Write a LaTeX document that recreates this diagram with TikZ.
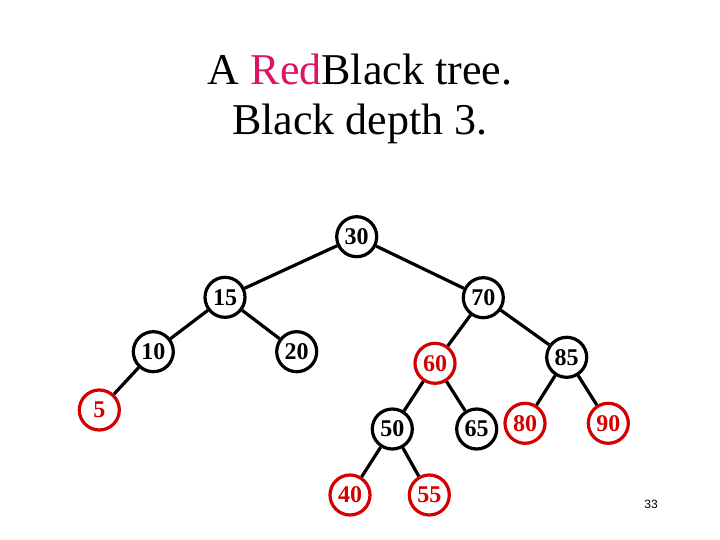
\documentclass[tikz,border=0pt]{standalone}
\usepackage{fontspec}
\setmainfont{Liberation Serif}
\newfontfamily\slidesans{Liberation Sans}
\definecolor{rbred}{HTML}{D40000}
\definecolor{titlered}{HTML}{DC1464}
\begin{document}
\begin{tikzpicture}[x=1pt,y=-1pt,
  blk/.style={circle,draw=black,line width=3.2pt,minimum size=40pt,inner sep=0pt,
    font=\fontsize{24}{24}\selectfont\bfseries},
  rd/.style={blk,draw=rbred,text=rbred},
  edge/.style={line width=3.2pt}]
  \useasboundingbox (0,0) rectangle (720,540);
  % Title
  \node[font=\fontsize{44}{44}\selectfont,anchor=base] (title1) at (360,85) {A \textcolor{titlered}{Red}Black tree.};
  \node[font=\fontsize{44}{44}\selectfont,anchor=base] (title2) at (360,135) {Black depth 3.};
  % Nodes
  \node[blk] (n30) at (356.7,236.7) {30};
  \node[blk] (n15) at (225,297.3) {15};
  \node[blk] (n10) at (153.3,351.7) {10};
  \node[blk] (n20) at (296.7,351.7) {20};
  \node[rd]  (n5)  at (99.3,410) {5};
  \node[blk] (n70) at (483.3,297.7) {70};
  \node[rd]  (n60) at (435,363.3) {60};
  \node[blk] (n85) at (566.7,357.3) {85};
  \node[blk] (n50) at (392.3,429) {50};
  \node[blk] (n65) at (476.7,429) {65};
  \node[rd]  (n80) at (525,423.3) {80};
  \node[rd]  (n90) at (608.3,423.3) {90};
  \node[rd]  (n40) at (350,495) {40};
  \node[rd]  (n55) at (429.3,495) {55};
  % Edges
  \draw[edge] (n30) -- (n15);
  \draw[edge] (n30) -- (n70);
  \draw[edge] (n15) -- (n10);
  \draw[edge] (n15) -- (n20);
  \draw[edge] (n10) -- (n5);
  \draw[edge] (n70) -- (n60);
  \draw[edge] (n70) -- (n85);
  \draw[edge] (n60) -- (n50);
  \draw[edge] (n60) -- (n65);
  \draw[edge] (n85) -- (n80);
  \draw[edge] (n85) -- (n90);
  \draw[edge] (n50) -- (n40);
  \draw[edge] (n50) -- (n55);
  % Page number
  \node[font=\slidesans\fontsize{12}{12}\selectfont] (page) at (651,504) {33};
\end{tikzpicture}
\end{document}
